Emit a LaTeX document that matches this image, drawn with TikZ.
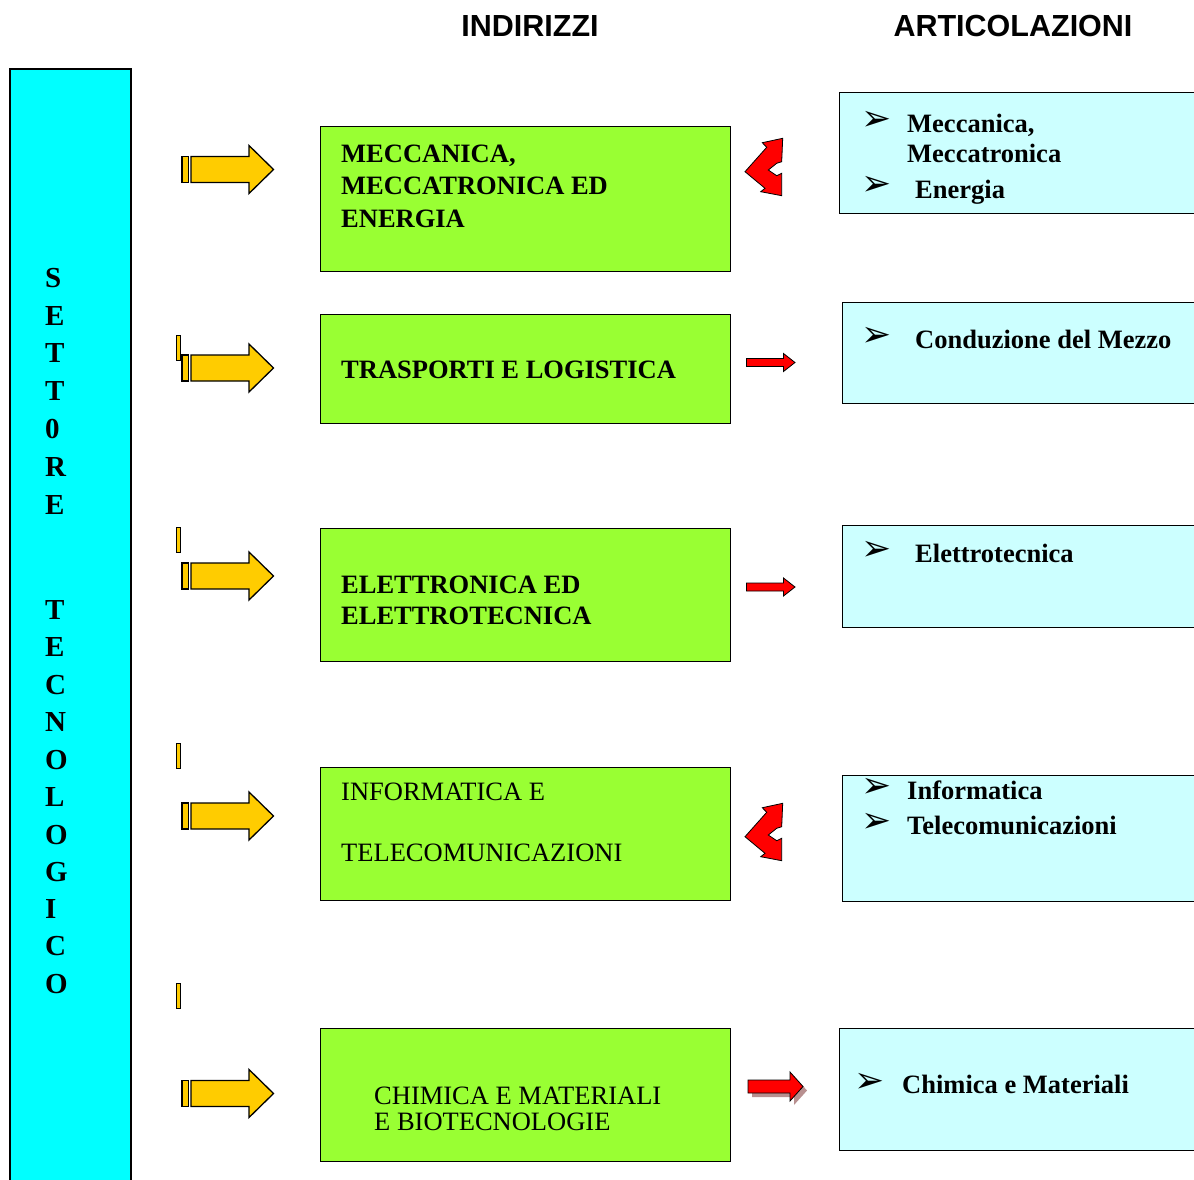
\documentclass[tikz,border=0pt]{standalone}
\usepackage{fontspec}
\setmainfont{Liberation Serif}
\newfontfamily\headfont{Liberation Sans}
\newfontfamily\dingfont{DejaVu Sans}
\definecolor{stripcyan}{HTML}{00FFFF}
\definecolor{indgreen}{HTML}{99FF33}
\definecolor{artblue}{HTML}{CCFFFF}
\definecolor{arrowgold}{HTML}{FFCC00}
\definecolor{shadowred}{HTML}{B89090}
\tikzset{
  indbox/.style={rectangle,draw,line width=1.2pt,fill=indgreen,anchor=north west,inner sep=0pt},
  artbox/.style={rectangle,draw,line width=1.2pt,fill=artblue,anchor=north west,inner sep=0pt},
  indtext/.style={anchor=base west,inner sep=0pt,font=\fontsize{26.5}{32}\selectfont\bfseries},
  indplain/.style={anchor=base west,inner sep=0pt,font=\fontsize{26.5}{32}\selectfont},
  arttext/.style={anchor=base west,inner sep=0pt,font=\fontsize{26.5}{32}\selectfont\bfseries},
  artbullet/.style={anchor=west,inner sep=0pt,font=\dingfont\fontsize{36}{40}\selectfont},
  heading/.style={inner sep=0pt,font=\headfont\bfseries\fontsize{30.5}{36}\selectfont},
  vletter/.style={anchor=base west,inner sep=0pt,font=\fontsize{29}{34}\selectfont\bfseries},
  goldarrow/.style={draw,line width=1.3pt,fill=arrowgold},
  redarrow/.style={draw,line width=0.8pt,fill=red}
}
\begin{document}
\begin{tikzpicture}[x=1pt,y=-1pt]
\useasboundingbox (0,0) rectangle (1194,1180);

\node[heading] (hInd) at (530,26) {INDIRIZZI};
\node[heading] (hArt) at (1013,26) {ARTICOLAZIONI};

\node[rectangle,draw,line width=2pt,fill=stripcyan,anchor=north west,minimum width=121,minimum height=1125,inner sep=0pt] (settore) at (9,68) {};
\foreach \l/\y in {S/278,E/316,T/353,T/391,0/429,R/467,E/505,T/610,E/647,C/685,N/722,O/760,L/797,O/835,G/872,I/909,C/946,O/984}
  \node[vletter] (v\y) at (45,\y+9.6) {\l};

\node[indbox,minimum width=410,minimum height=145] (ind1) at (320,126) {};
\node[indbox,minimum width=410,minimum height=109] (ind2) at (320,314) {};
\node[indbox,minimum width=410,minimum height=133] (ind3) at (320,528) {};
\node[indbox,minimum width=410,minimum height=133] (ind4) at (320,767) {};
\node[indbox,minimum width=410,minimum height=133] (ind5) at (320,1028) {};

\node[indtext] (t1a) at (341,162) {MECCANICA,};
\node[indtext] (t1b) at (341,194) {MECCATRONICA ED};
\node[indtext] (t1c) at (341,227) {ENERGIA};
\node[indtext] (t2a) at (341,378) {TRASPORTI E LOGISTICA};
\node[indtext] (t3a) at (341,593) {ELETTRONICA ED};
\node[indtext] (t3b) at (341,624) {ELETTROTECNICA};
\node[indplain] (t4a) at (341,800) {INFORMATICA E};
\node[indplain] (t4b) at (341,861) {TELECOMUNICAZIONI};
\node[indplain] (t5a) at (374,1104) {CHIMICA E MATERIALI};
\node[indplain] (t5b) at (374,1130) {E BIOTECNOLOGIE};

\node[artbox,minimum width=370,minimum height=121] (art1) at (839,92) {};
\node[artbox,minimum width=370,minimum height=101] (art2) at (842,302) {};
\node[artbox,minimum width=370,minimum height=102] (art3) at (842,525) {};
\node[artbox,minimum width=370,minimum height=126] (art4) at (842,775) {};
\node[artbox,minimum width=370,minimum height=122] (art5) at (839,1028) {};

\node[artbullet] (b1a) at (861,121) {➢};
\node[arttext] (a1a) at (907,133) {Meccanica,};
\node[arttext] (a1b) at (907,162) {Meccatronica};
\node[artbullet] (b1b) at (861,186) {➢};
\node[arttext] (a1c) at (915,198) {Energia};
\node[artbullet] (b2a) at (861,337) {➢};
\node[arttext] (a2a) at (915,348) {Conduzione del Mezzo};
\node[artbullet] (b3a) at (861,551) {➢};
\node[arttext] (a3a) at (915,562) {Elettrotecnica};
\node[artbullet] (b4a) at (861,788) {➢};
\node[arttext] (a4a) at (907,799) {Informatica};
\node[artbullet] (b4b) at (861,823) {➢};
\node[arttext] (a4b) at (907,834) {Telecomunicazioni};
\node[artbullet] (b5a) at (854,1083) {➢};
\node[arttext] (a5a) at (902,1093) {Chimica e Materiali};

\foreach \y in {169.5,368,576,816,1093.5} {
  \draw[goldarrow] (182,\y-13) rectangle (188.5,\y+13);
  \draw[goldarrow] (191,\y-13) -- (249,\y-13) -- (249,\y-24) -- (273.5,\y) -- (249,\y+24) -- (249,\y+13) -- (191,\y+13) -- cycle;
}
\foreach \y in {348,539.5,755.5,995.5}
  \draw[goldarrow,line width=1pt] (176.5,\y-12.5) rectangle (180.5,\y+12.5);

\foreach \y in {362.5,587}
  \draw[redarrow] (746.5,\y-4) -- (783.5,\y-4) -- (783.5,\y-9) -- (795,\y) -- (783.5,\y+9) -- (783.5,\y+4) -- (746.5,\y+4) -- cycle;
\fill[shadowred,shift={(4,4)}] (748,1080) -- (790,1080) -- (790,1072) -- (803,1086.5) -- (790,1101) -- (790,1093) -- (748,1093) -- cycle;
\draw[redarrow] (748,1080) -- (790,1080) -- (790,1072) -- (803,1086.5) -- (790,1101) -- (790,1093) -- (748,1093) -- cycle;

\foreach \y in {171.7,836.7}
  \draw[redarrow,shift={(745,\y)}] (37.7,-33.4) -- (17.3,-29) -- (21.7,-24.4) -- (0,0) -- (20,16.6) -- (15.7,20) -- (36.7,24) -- (36.7,1.6) -- (31.7,4) -- (23.3,-1.7) -- (31.7,-8.4) -- (36.7,-10) -- cycle;
\end{tikzpicture}
\end{document}
